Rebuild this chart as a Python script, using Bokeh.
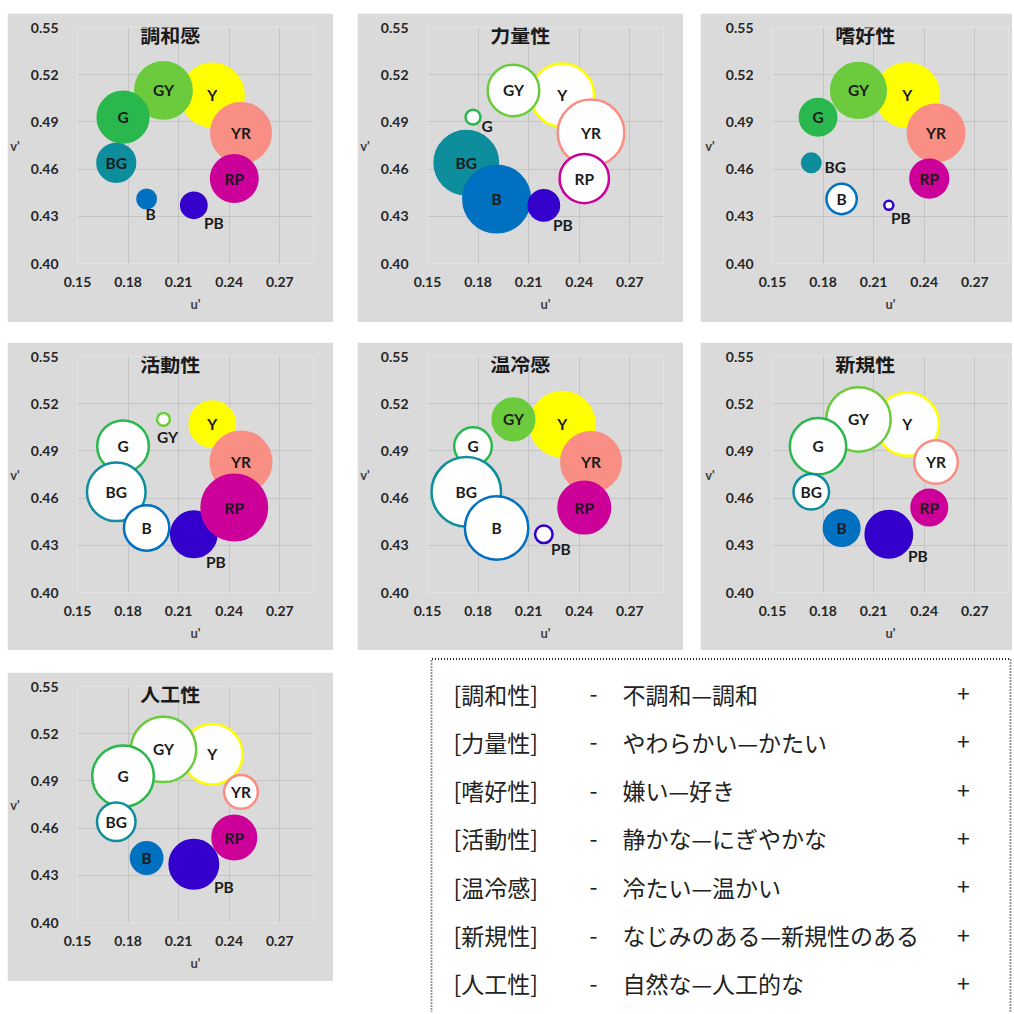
import math
from bokeh.plotting import figure
from bokeh.models import Range1d, FixedTicker, ColumnDataSource, Label, Spacer, NumeralTickFormatter
from bokeh.layouts import row, column
from bokeh.embed import file_html
from bokeh.resources import INLINE
from bokeh.core.properties import value

# ---------------- data ----------------
categories = ["Y", "YR", "GY", "G", "BG", "B", "PB", "RP"]
u_prime = [0.230, 0.247, 0.201, 0.177, 0.173, 0.191, 0.219, 0.243]
v_prime = [0.507, 0.483, 0.510, 0.493, 0.464, 0.441, 0.437, 0.454]
hue_colors = ["#FFFF00", "#F98E84", "#6BCB3C", "#2AB84E", "#0E8E9C", "#0070C0", "#3300CC", "#CC0099"]

x_ticks = [0.15, 0.18, 0.21, 0.24, 0.27]
y_ticks = [0.40, 0.43, 0.46, 0.49, 0.52, 0.55]

panel_titles = ["調和感", "力量性", "嗜好性", "活動性", "温冷感", "新規性", "人工性"]
# semantic scores (negative -> white bubble with coloured outline), order = categories
score_harmony  = [1.26, 1.14, 1.03, 0.84, 0.48, 0.13, 0.23, 0.71]
score_potency  = [-1.29, -1.42, -0.87, -0.09, 1.29, 1.42, 0.32, -0.80]
score_liking   = [1.29, 1.03, 0.97, 0.45, 0.13, -0.32, -0.04, 0.48]
score_activity = [0.68, 1.18, -0.07, -0.87, -1.11, -0.68, 0.68, 1.37]
score_warmth   = [1.33, 1.14, 0.58, -0.48, -1.54, -1.29, -0.12, 0.87]
score_novelty  = [-1.29, -0.63, -1.33, -1.03, -0.43, 0.43, 0.71, 0.43]
score_artific  = [-1.18, -0.39, -1.37, -1.22, -0.50, 0.34, 0.77, 0.63]

legend_factors = ["[調和性]", "[力量性]", "[嗜好性]", "[活動性]", "[温冷感]", "[新規性]", "[人工性]"]
legend_scales = ["不調和—調和", "やわらかい—かたい", "嫌い—好き", "静かな—にぎやかな",
                 "冷たい—温かい", "なじみのある—新規性のある", "自然な—人工的な"]

# ---------------- styling ----------------
BG = "#DADADA"
GRID = "#C4C4C4"
K = 58.0       # px diameter for |score| = 1
LW = 2.5
FRAME = 236

# label offsets (screen px) for labels moved off small bubbles
label_offsets = [
    {"B": (4, 15), "PB": (20, 18)},
    {"G": (14, 9), "PB": (19, 20)},
    {"BG": (24, 4), "PB": (12, 13)},
    {"GY": (4, 18), "PB": (22, 28)},
    {"PB": (17, 15)},
    {"PB": (29, 22)},
    {"PB": (30, 23)},
]


def make_panel(title, scores, width, height, left, offsets):
    right = width - left - FRAME
    p = figure(width=width, height=height, x_range=Range1d(0.15, 0.29), y_range=Range1d(0.40, 0.55),
               output_backend="svg", toolbar_location=None,
               min_border_left=left, min_border_right=right, min_border_top=14,
               min_border_bottom=height - 14 - FRAME)
    p.background_fill_color = BG
    p.border_fill_color = BG
    p.outline_line_color = None

    for ax, ticks in ((p.xaxis[0], x_ticks), (p.yaxis[0], y_ticks)):
        ax.ticker = FixedTicker(ticks=ticks)
        ax.formatter = NumeralTickFormatter(format="0.00")
        ax.axis_line_color = None
        ax.major_tick_line_color = None
        ax.major_tick_out = 0
        ax.major_tick_in = 0
        ax.minor_tick_line_color = None
        ax.minor_tick_out = 0
        ax.minor_tick_in = 0
        ax.major_label_text_font = "Lato"
        ax.major_label_text_font_style = "bold"
        ax.major_label_text_font_size = "14px"
        ax.major_label_text_color = "#262626"
        ax.axis_label_text_font = "Lato"
        ax.axis_label_text_font_style = "bold"
        ax.axis_label_text_font_size = "13px"
        ax.axis_label_text_color = "#404040"
    p.xaxis[0].axis_label = "u'"
    p.xaxis[0].major_label_standoff = 13
    p.xaxis[0].axis_label_standoff = 6
    p.yaxis[0].axis_label = "v'"
    p.yaxis[0].major_label_standoff = 19
    p.yaxis[0].axis_label_standoff = 8
    try:
        p.yaxis[0].axis_label_orientation = "horizontal"
    except Exception:
        pass

    p.xgrid.ticker = FixedTicker(ticks=x_ticks)
    p.ygrid.ticker = FixedTicker(ticks=y_ticks)
    p.grid.grid_line_color = GRID
    p.grid.grid_line_width = 1

    sizes = [K * math.sqrt(abs(s)) - LW for s in scores]
    fills = [c if s > 0 else "white" for c, s in zip(hue_colors, scores)]
    xo = [offsets.get(c, (0, 0))[0] for c in categories]
    yo = [offsets.get(c, (0, 0))[1] for c in categories]
    src = ColumnDataSource(dict(u=u_prime, v=v_prime, size=sizes, fill=fills, line=hue_colors,
                                label=categories, xo=xo, yo=yo))
    p.scatter("u", "v", size="size", fill_color="fill", line_color="line", line_width=LW, source=src)
    p.text("u", "v", text="label", x_offset="xo", y_offset="yo", source=src,
           text_align="center", text_baseline="middle", text_font=value("Lato"),
           text_font_style="bold", text_font_size="15.5px", text_color="#1a1a1a")

    p.add_layout(Label(x=0.205, y=0.5455, text=title, text_align="center", text_baseline="middle",
                       text_font="Noto Sans CJK JP", text_font_style="bold", text_font_size="20px",
                       text_color="#1a1a1a"))
    return p


all_scores = [score_harmony, score_potency, score_liking, score_activity,
              score_warmth, score_novelty, score_artific]
widths = [326, 326, 312, 326, 326, 312, 326]
heights = [309, 309, 309, 308, 308, 308, 309]
lefts = [70, 70, 72, 70, 70, 72, 70]
panels = [make_panel(t, s, w, h, l, o) for t, s, w, h, l, o in
          zip(panel_titles, all_scores, widths, heights, lefts, label_offsets)]

# ---------------- legend box ----------------
LG_W, LG_H = 586, 355
leg = figure(width=LG_W, height=LG_H, x_range=Range1d(0, LG_W), y_range=Range1d(LG_H, 0),
             output_backend="svg", toolbar_location=None, min_border=0,
             x_axis_location=None, y_axis_location=None)
leg.grid.visible = False
leg.outline_line_color = None
leg.background_fill_color = "white"
leg.border_fill_color = "white"
leg.line(x=[5, 5, 584, 584], y=[LG_H, 1.5, 1.5, LG_H], line_color="#222222", line_width=1.8, line_dash="1 2")

row_y = [36 + i * 48.33 for i in range(len(legend_factors))]
lsrc = ColumnDataSource(dict(y=row_y, f=legend_factors, s=legend_scales,
                             minus=["-"] * len(row_y), plus=["+"] * len(row_y),
                             x1=[27] * len(row_y), x2=[167] * len(row_y),
                             x3=[196] * len(row_y), x4=[537] * len(row_y)))
common = dict(source=lsrc, text_baseline="middle", text_font=value("Noto Sans CJK JP"),
              text_font_size="23px", text_color="#222222")
leg.text("x1", "y", text="f", text_align="left", **common)
leg.text("x2", "y", text="minus", text_align="center", **common)
leg.text("x3", "y", text="s", text_align="left", **common)
leg.text("x4", "y", text="plus", text_align="center", **common)

# ---------------- layout ----------------
layout = column(
    Spacer(height=13),
    row(Spacer(width=7), panels[0], Spacer(width=24), panels[1], Spacer(width=17), panels[2]),
    Spacer(height=20),
    row(Spacer(width=7), panels[3], Spacer(width=24), panels[4], Spacer(width=17), panels[5]),
    Spacer(height=7),
    row(Spacer(width=7), column(Spacer(height=15), panels[6]), Spacer(width=93), leg),
)

open("out.html", "w").write(file_html(layout, INLINE))
